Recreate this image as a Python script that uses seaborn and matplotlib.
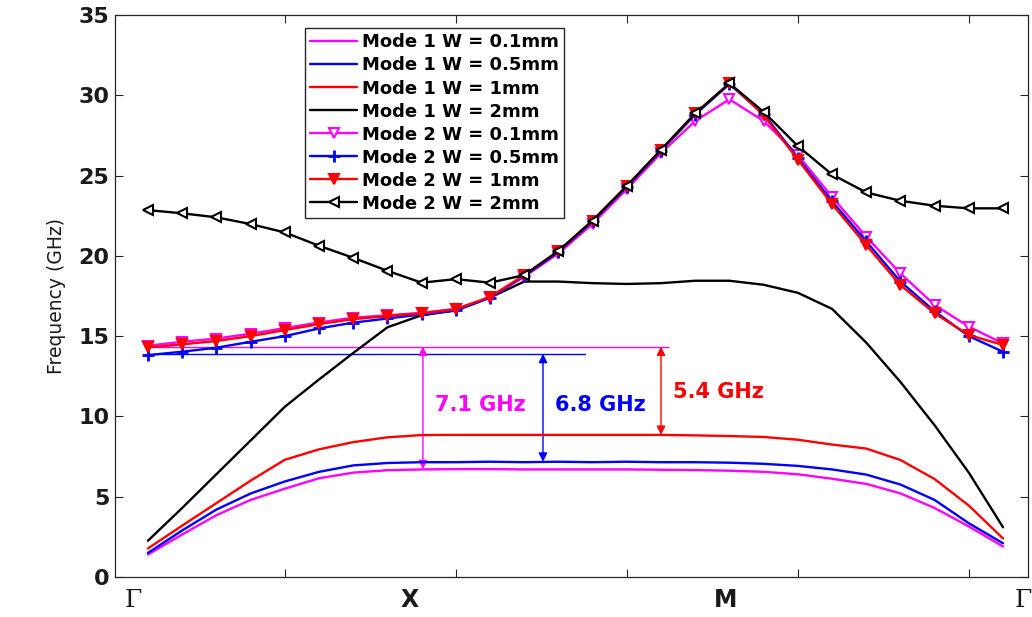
import numpy as np
import matplotlib
matplotlib.use("Agg")
import matplotlib.pyplot as plt
import seaborn as sns

# ---------------- data ----------------
k_index = list(range(26))  # wave-vector samples along Γ-X-M-Γ

# Mode 1 (smooth lines)
mode1_w01 = [1.4, 2.65, 3.85, 4.8, 5.5, 6.15, 6.5, 6.65, 6.7, 6.72, 6.72, 6.7, 6.7,
             6.7, 6.7, 6.68, 6.66, 6.62, 6.55, 6.4, 6.12, 5.8, 5.21, 4.3, 3.15, 1.9]
mode1_w05 = [1.5, 2.9, 4.2, 5.2, 5.95, 6.55, 6.95, 7.1, 7.15, 7.15, 7.18, 7.15, 7.18,
             7.15, 7.18, 7.15, 7.15, 7.12, 7.05, 6.92, 6.7, 6.38, 5.76, 4.8, 3.35, 2.1]
mode1_w1 = [1.78, 3.2, 4.6, 6.0, 7.3, 7.95, 8.4, 8.7, 8.84, 8.85, 8.85, 8.85, 8.85,
            8.85, 8.85, 8.85, 8.82, 8.78, 8.72, 8.55, 8.25, 8.0, 7.29, 6.1, 4.45, 2.4]
mode1_w2 = [2.26, 4.3, 6.4, 8.5, 10.6, 12.3, 13.95, 15.55, 16.3, 16.6, 17.4, 18.4, 18.4,
            18.3, 18.25, 18.3, 18.45, 18.45, 18.2, 17.7, 16.7, 14.6, 12.15, 9.45, 6.5, 3.1]

# Mode 2 (lines with markers)
mode2_w01 = [14.4, 14.65, 14.85, 15.15, 15.5, 15.85, 16.15, 16.3, 16.45, 16.7, 17.4, 18.7, 20.15,
             22.0, 24.15, 26.4, 28.4, 29.75, 28.4, 26.28, 23.68, 21.19, 18.91, 16.94, 15.59, 14.55]
mode2_w05 = [13.82, 14.03, 14.28, 14.65, 15.0, 15.48, 15.84, 16.1, 16.35, 16.6, 17.4, 18.75, 20.25,
             22.15, 24.3, 26.55, 28.8, 30.7, 28.85, 26.1, 23.4, 20.9, 18.4, 16.55, 15.0, 14.03]
mode2_w1 = [14.3, 14.49, 14.7, 15.0, 15.38, 15.75, 16.06, 16.25, 16.42, 16.67, 17.45, 18.8, 20.3,
            22.2, 24.35, 26.6, 28.87, 30.74, 28.77, 26.0, 23.22, 20.67, 18.18, 16.42, 15.07, 14.45]
mode2_w2 = [22.85, 22.65, 22.4, 21.98, 21.46, 20.63, 19.88, 19.07, 18.33, 18.55, 18.33, 18.8, 20.3,
            22.2, 24.35, 26.6, 28.87, 30.74, 28.97, 26.84, 25.07, 23.95, 23.43, 23.12, 22.96, 22.96]

legend_labels = ["Mode 1 W = 0.1mm", "Mode 1 W = 0.5mm", "Mode 1 W = 1mm", "Mode 1 W = 2mm",
                 "Mode 2 W = 0.1mm", "Mode 2 W = 0.5mm", "Mode 2 W = 1mm", "Mode 2 W = 2mm"]
symmetry_labels = ["Γ", "X", "M", "Γ"]
gap_labels = ["7.1 GHz", "6.8 GHz", "5.4 GHz"]
y_ticks = [0, 5, 10, 15, 20, 25, 30, 35]

# ---------------- style ----------------
sns.set_style("ticks")
plt.rcParams["font.family"] = ["DejaVu Sans"]

MAG, BLU, RED, BLK = "#FF00FF", "#0000FF", "#FF0000", "#000000"
TXT = "#1a1a1a"

fig = plt.figure(figsize=(10.32, 6.17), dpi=100)
ax = fig.add_axes([0.1114, 0.0648, 0.8847, 0.9109])

lw = 1.7
mode1 = [mode1_w01, mode1_w05, mode1_w1, mode1_w2]
cols = [MAG, BLU, RED, BLK]
for ys, c, lab in zip(mode1, cols, legend_labels[:4]):
    sns.lineplot(x=k_index, y=ys, ax=ax, color=c, linewidth=lw, label=lab, zorder=3)

mode2 = [mode2_w01, mode2_w05, mode2_w1, mode2_w2]
mstyles = [dict(marker="v", markersize=6.5, markerfacecolor="white", markeredgecolor=MAG, markeredgewidth=1.5),
           dict(marker="+", markersize=8, markeredgecolor=BLU, markeredgewidth=2),
           dict(marker="v", markersize=7, markerfacecolor=RED, markeredgecolor=RED, markeredgewidth=1.5),
           dict(marker="<", markersize=7, markerfacecolor="white", markeredgecolor=BLK, markeredgewidth=1.5)]
for ys, c, lab, ms in zip(mode2, cols, legend_labels[4:], mstyles):
    sns.lineplot(x=k_index, y=ys, ax=ax, color=c, linewidth=lw, label=lab, zorder=3, **ms)

# ---------------- band-gap annotations ----------------
ax.plot([0, 15.2], [14.35, 14.35], color=MAG, lw=1.0, zorder=1)
ax.plot([0, 12.78], [13.9, 13.9], color=BLU, lw=1.0, zorder=1)

def darrow(x, y0, y1, c):
    ax.annotate("", xy=(x, y1), xytext=(x, y0),
                arrowprops=dict(arrowstyle="<|-|>", color=c, lw=1.0, mutation_scale=13,
                                shrinkA=0, shrinkB=0), zorder=2)

darrow(8.04, 14.35, 6.72, MAG)
darrow(11.55, 13.9, 7.18, BLU)
darrow(15.0, 14.35, 8.85, RED)

ax.text(9.71, 10.7, gap_labels[0], color=MAG, fontsize=15, fontweight="bold", ha="center", va="center")
ax.text(13.22, 10.7, gap_labels[1], color=BLU, fontsize=15, fontweight="bold", ha="center", va="center")
ax.text(16.67, 11.54, gap_labels[2], color=RED, fontsize=15, fontweight="bold", ha="center", va="center")

# ---------------- axes ----------------
ax.set_xlim(-0.965, 25.73)
ax.set_ylim(0, 35)
ax.set_xticks([4, 9, 14, 19, 24])
ax.set_xticklabels([])
ax.set_yticks(y_ticks)
ax.set_yticklabels([str(t) for t in y_ticks], fontsize=16, fontweight="bold", color=TXT)
ax.tick_params(direction="in", length=6, width=0.8, color="#262626", top=True, right=True, pad=4)
for s in ax.spines.values():
    s.set_visible(True)
    s.set_color("#262626")
    s.set_linewidth(0.9)
ax.set_xlabel("")
ax.set_ylabel("Frequency (GHz)", fontsize=13.5, color=TXT, labelpad=9)

# symmetry point labels under the axis
sym_x = [-0.44, 7.66, 16.9, 25.6]
for xv, lab in zip(sym_x, symmetry_labels):
    if lab == "Γ":
        ax.text(xv, -1.45, lab, fontsize=18, family="DejaVu Serif", color=TXT,
                ha="center", va="center", clip_on=False)
    else:
        ax.text(xv, -1.45, lab, fontsize=17, fontweight="bold", color=TXT,
                ha="center", va="center", clip_on=False)

leg = ax.legend(loc="upper left", bbox_to_anchor=(0.2955, 0.9546), bbox_transform=fig.transFigure,
                frameon=True, fancybox=False, edgecolor="#262626", framealpha=1,
                prop=dict(weight="bold", size=13), handlelength=2.6, handletextpad=0.25,
                labelspacing=0.28, borderpad=0.3, borderaxespad=0)
leg.get_frame().set_linewidth(1.0)
for t in leg.get_texts():
    t.set_color("black")

fig.savefig("out.png", dpi=100)
